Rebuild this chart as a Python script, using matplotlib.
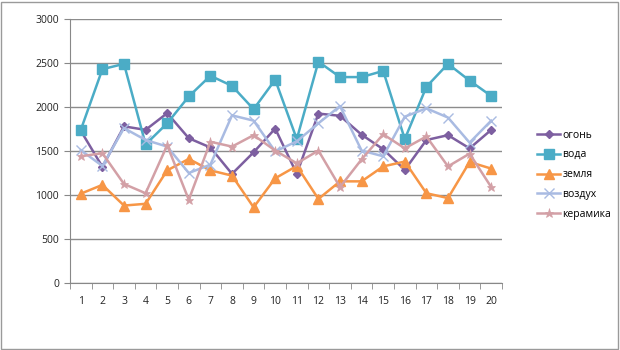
import numpy as np
import matplotlib
matplotlib.use("Agg")
import matplotlib.pyplot as plt
from matplotlib.patches import Rectangle

plt.rcParams['font.family'] = ['Open Sans', 'DejaVu Sans']

# the data
days = list(range(1, 21))
ogon = [1730, 1320, 1780, 1740, 1930, 1645, 1540, 1240, 1485, 1755,
        1240, 1925, 1900, 1685, 1520, 1285, 1625, 1680, 1530, 1740]
voda = [1740, 2430, 2490, 1575, 1815, 2120, 2355, 2240, 1975, 2310,
        1635, 2515, 2340, 2340, 2410, 1635, 2230, 2490, 2300, 2125]
zemlya = [1015, 1115, 880, 900, 1280, 1410, 1280, 1220, 860, 1190,
          1330, 955, 1155, 1155, 1325, 1380, 1020, 965, 1375, 1300]
vozduh = [1510, 1330, 1760, 1625, 1550, 1250, 1345, 1905, 1845, 1495,
          1610, 1815, 2010, 1505, 1440, 1890, 1985, 1880, 1595, 1845]
keramika = [1440, 1475, 1125, 1020, 1565, 945, 1605, 1550, 1680, 1505,
            1360, 1505, 1090, 1405, 1690, 1530, 1665, 1325, 1470, 1090]

fig = plt.figure(figsize=(6.2, 3.5), dpi=100)
ax = fig.add_axes([70 / 620, 67 / 350, 432 / 620, 264 / 350])

# outer chart border
fig.patches.append(Rectangle((0.002, 0.004), 0.995, 0.99, transform=fig.transFigure,
                             fill=False, edgecolor='#9a9a9a', linewidth=1.0))

ax.plot(days, ogon, color='#7D5FA0', linewidth=1.8, marker='D', markersize=4.5, label='огонь')
ax.plot(days, voda, color='#4BACC6', linewidth=1.8, marker='s', markersize=6.5, label='вода')
ax.plot(days, zemlya, color='#F79646', linewidth=1.8, marker='^', markersize=6.5, label='земля')
ax.plot(days, vozduh, color='#A9BBE2', linewidth=1.8, marker='x', markersize=6.5,
        markeredgewidth=1, label='воздух')
ax.plot(days, keramika, color='#D3A0A6', linewidth=1.8, marker='*', markersize=6.5,
        markeredgewidth=0.5, label='керамика')

ax.set_xlim(0.5, 20.5)
ax.set_ylim(0, 3000)
ax.set_yticks(np.arange(0, 3001, 500))
ax.set_xticks(days)
ax.set_xticks(np.arange(0.5, 21, 1), minor=True)
ax.tick_params(axis='x', which='major', length=0, pad=9, labelsize=7.5, colors='#222222')
ax.tick_params(axis='x', which='minor', length=4, color='#888888', direction='out')
ax.tick_params(axis='y', length=4, color='#888888', labelsize=7.5, labelcolor='#222222', pad=4)

ax.grid(True, axis='y', color='#8c8c8c', linewidth=1)
ax.set_axisbelow(True)
for s in ['top', 'right']:
    ax.spines[s].set_visible(False)
for s in ['left', 'bottom']:
    ax.spines[s].set_color('#888888')

ax.legend(loc='center left', bbox_to_anchor=(1.072, 0.41), frameon=False, fontsize=7.5,
          handlelength=2.2, labelspacing=0.85, handletextpad=0.2, borderaxespad=0)

fig.savefig('out.png', dpi=100)
